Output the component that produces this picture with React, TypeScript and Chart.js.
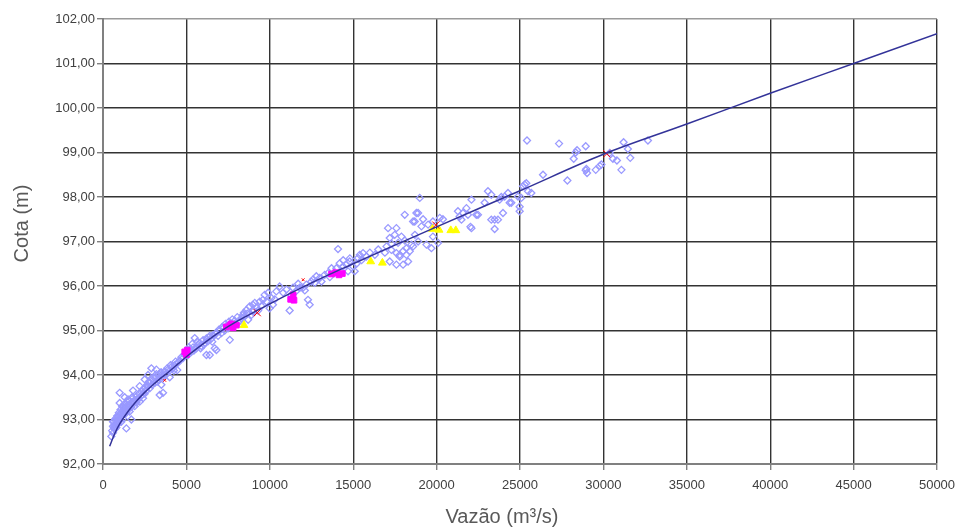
import React, { useEffect, useRef } from "react";
import { Chart, registerables } from "chart.js";

Chart.register(...registerables);

// ---------- data ----------
const X_TITLE = "Vazão (m³/s)";
const Y_TITLE = "Cota (m)";

const xMin = 0;
const xMax = 50000;
const xStep = 5000;
const yMin = 92;
const yMax = 102;
const yStep = 1;

// rating curve (discharge, stage)
const curveQ = [400, 700, 1000, 1500, 2000, 2500, 3000, 3500, 4000, 4500, 5000, 6000, 7000, 8000, 9000, 10000, 12500, 15000, 17500, 20000, 25000, 30000, 35000, 40000, 45000, 50000];
const curveH = [92.40, 92.68, 92.90, 93.18, 93.41, 93.61, 93.78, 93.94, 94.09, 94.25, 94.41, 94.70, 94.97, 95.20, 95.40, 95.60, 96.07, 96.50, 96.92, 97.33, 98.14, 98.96, 99.64, 100.33, 101.00, 101.67];

// measured points (discharge, stage)
const measuredLow: [number, number][] = [
  [500, 92.62], [550, 92.75], [600, 92.70], [600, 92.85], [600, 92.95], [650, 92.95], [650, 92.82], [700, 92.78],
  [700, 92.88], [750, 93.02], [750, 92.85], [800, 92.82], [800, 92.96], [850, 93.08], [850, 92.92], [900, 92.90],
  [900, 93.05], [950, 93.15], [950, 93.00], [1000, 92.98], [1000, 93.10], [1000, 93.60], [1000, 93.37], [1050, 93.22],
  [1050, 93.05], [1100, 92.95], [1100, 93.08], [1150, 93.18], [1150, 93.30], [1200, 93.02], [1200, 93.28], [1200, 93.15],
  [1250, 93.12], [1250, 93.25], [1300, 93.20], [1300, 93.35], [1300, 93.50], [1350, 93.28], [1400, 92.80], [1400, 93.15],
  [1400, 93.30], [1450, 93.40], [1500, 93.22], [1500, 93.45], [1550, 93.32], [1600, 93.18], [1600, 93.42], [1650, 93.30],
  [1700, 93.00], [1700, 93.28], [1700, 93.38], [1750, 93.50], [1800, 93.35], [1800, 93.48], [1800, 93.65], [1850, 93.40],
  [1900, 93.30], [1900, 93.44], [2000, 93.38], [2000, 93.52], [2050, 93.45], [2100, 93.45], [2150, 93.58], [2200, 93.40],
  [2200, 93.75], [2250, 93.52], [2300, 93.62], [2350, 93.55], [2400, 93.48], [2400, 93.68], [2450, 93.60], [2500, 93.58],
  [2500, 93.90], [2550, 93.72], [2600, 93.65], [2650, 93.78], [2700, 93.75], [2700, 94.00], [2750, 93.85], [2800, 93.70],
  [2800, 93.82], [2900, 94.15], [2950, 93.78], [3000, 93.88], [3050, 93.95], [3100, 93.82], [3150, 93.95], [3200, 94.02],
  [3200, 94.12], [3250, 93.85], [3300, 93.90], [3400, 93.55], [3400, 94.00], [3450, 94.05], [3500, 94.06], [3500, 93.78],
  [3550, 93.98], [3600, 93.60], [3600, 93.95], [3700, 94.08], [3750, 94.00], [3800, 94.02], [3850, 94.15], [3900, 94.12],
  [4000, 94.10], [4000, 93.95], [4050, 94.22], [4100, 94.18], [4200, 94.15], [4250, 94.10], [4300, 94.22], [4350, 94.30],
  [4450, 94.11], [4500, 94.28], [4600, 94.32], [4700, 94.40], [4800, 94.38], [4900, 94.45],
];

const measuredMid: [number, number][] = [
  [5000, 94.50], [5100, 94.45], [5150, 94.62], [5200, 94.58], [5300, 94.52], [5350, 94.70], [5400, 94.62], [5450, 94.55],
  [5500, 94.83], [5600, 94.60], [5650, 94.75], [5700, 94.68], [5800, 94.72], [5850, 94.60], [5900, 94.65], [6000, 94.78],
  [6050, 94.68], [6100, 94.72], [6200, 94.45], [6200, 94.82], [6300, 94.76], [6350, 94.85], [6400, 94.45], [6400, 94.88],
  [6500, 94.82], [6550, 94.75], [6600, 94.90], [6700, 94.60], [6750, 94.92], [6800, 94.56], [6800, 94.95], [6900, 94.88],
  [6950, 95.02], [7000, 95.00], [7100, 94.94], [7150, 95.08], [7200, 95.05], [7300, 95.00], [7350, 95.15], [7400, 95.10],
  [7500, 95.05], [7550, 95.20], [7600, 94.79], [7700, 95.15], [7750, 95.25], [7800, 95.12], [7900, 95.22], [8050, 95.30],
  [8100, 95.18], [8200, 95.22], [8300, 95.28], [8390, 95.35], [8450, 95.40], [8500, 95.32], [8600, 95.46], [8650, 95.38],
  [8700, 95.24], [8790, 95.54], [8900, 95.35], [8990, 95.58], [8990, 95.46], [9000, 95.42], [9100, 95.62], [9200, 95.52],
  [9300, 95.45], [9400, 95.65], [9500, 95.55], [9590, 95.69], [9690, 95.80], [9800, 95.65], [9900, 95.85], [9990, 95.50],
  [10090, 95.73], [10190, 95.58], [10300, 95.70], [10390, 95.88], [10590, 95.99], [10800, 95.85], [11000, 95.92], [11190, 95.45],
  [11290, 95.80], [11390, 95.96], [11590, 95.89], [11700, 96.05], [11790, 95.96], [11990, 95.96], [12100, 95.90], [12190, 96.03],
  [12290, 95.69], [12390, 95.58], [12490, 96.10], [12600, 96.15], [12690, 96.07], [12790, 96.22], [12990, 96.18], [13100, 96.10],
  [13290, 96.25], [13490, 96.29], [13600, 96.20], [13700, 96.40], [13890, 96.29], [13990, 96.40], [14090, 96.83], [14190, 96.51],
  [14290, 96.33], [14390, 96.44], [14400, 96.58], [14590, 96.48], [14690, 96.33], [14790, 96.55], [14800, 96.62], [14990, 96.44],
  [15090, 96.33], [15200, 96.50], [15290, 96.63], [15390, 96.70], [15500, 96.58], [15590, 96.74], [15790, 96.66], [16000, 96.75],
  [16300, 96.70], [16500, 96.82], [16900, 96.75], [17000, 96.89], [17090, 97.30], [17190, 96.55], [17190, 97.08], [17290, 96.81],
  [17300, 96.95], [17490, 97.15], [17590, 96.48], [17590, 96.74], [17590, 97.30], [17690, 96.97], [17790, 96.66], [17990, 96.48],
  [18100, 97.02], [18190, 96.70], [18290, 96.55], [18390, 96.78], [18590, 96.89], [18700, 97.15],
];

const measuredHigh: [number, number][] = [
  [17790, 96.70], [17890, 97.11], [17990, 96.78], [18090, 97.60], [18190, 96.85], [18490, 96.93], [18590, 97.45], [18690, 97.45],
  [18790, 97.64], [18890, 97.00], [18890, 97.64], [18990, 97.98], [19090, 97.34], [19190, 97.50], [19390, 96.93], [19490, 97.38],
  [19690, 96.85], [19780, 97.11], [19780, 97.45], [20090, 96.97], [20190, 97.53], [20380, 97.50], [21280, 97.68], [21380, 97.56],
  [21490, 97.49], [21580, 97.64], [21790, 97.75], [21880, 97.60], [22030, 97.33], [22090, 97.94], [22090, 97.30], [22380, 97.60],
  [22480, 97.60], [22880, 97.87], [23080, 98.13], [23280, 98.05], [23280, 97.49], [23480, 97.49], [23480, 97.28], [23680, 97.49],
  [23780, 97.94], [23880, 98.00], [23980, 97.64], [24080, 98.01], [24280, 98.09], [24380, 97.87], [24480, 97.87], [24880, 98.01],
  [24980, 97.68], [24980, 97.78], [25080, 97.98], [25180, 98.24], [25280, 98.28], [25380, 98.31], [25420, 99.27], [25480, 98.13],
  [25680, 98.09], [26380, 98.50], [27340, 99.20], [27840, 98.37], [28220, 98.86], [28340, 99.00], [28420, 99.05], [28940, 99.14],
  [28940, 98.60], [28980, 98.63], [29020, 98.54], [29540, 98.61], [29780, 98.70], [29880, 98.73], [30380, 98.99], [30570, 98.86],
  [30810, 98.82], [31080, 98.61], [31210, 99.23], [31470, 99.08], [31610, 98.88], [32670, 99.27],
];

const magentaPoints: [number, number][] = [
  [4900, 94.52], [5000, 94.46], [5050, 94.56], [7400, 95.08], [7600, 95.11], [7800, 95.06], [8000, 95.12], [7700, 95.15],
  [11250, 95.70], [11400, 95.80], [11450, 95.68], [13700, 96.27], [13950, 96.30], [14150, 96.25], [14350, 96.28],
];

const yellowPoints: [number, number][] = [
  [8450, 95.12], [16050, 96.55], [16750, 96.52], [19750, 97.28], [20150, 97.26], [20850, 97.25], [21150, 97.25],
];

const redPoints: [number, number][] = [
  [9250, 95.40], [19950, 97.37], [30200, 98.97], [3700, 93.88], [12000, 96.14],
];
const redSizes = [5, 5, 5, 2, 2];

// ---------- helpers ----------
const toXY = (arr: [number, number][]) => arr.map(([x, y]) => ({ x, y }));
const FONT_FAMILY = '"Liberation Sans", Arial, sans-serif';

const titlesPlugin = {
  id: "axisTitles",
  afterDraw(chart: any) {
    const { ctx, chartArea } = chart;
    ctx.save();
    ctx.fillStyle = "#595959";
    ctx.font = `20px ${FONT_FAMILY}`;
    ctx.textAlign = "center";
    ctx.textBaseline = "middle";
    const xc = (chartArea.left + chartArea.right) / 2 - 18;
    ctx.fillText(X_TITLE, xc, chart.height - 14);
    ctx.translate(22, (chartArea.top + chartArea.bottom) / 2 - 18);
    ctx.rotate(-Math.PI / 2);
    ctx.fillText(Y_TITLE, 0, 0);
    ctx.restore();
  },
};

export default function App() {
  const canvasRef = useRef<HTMLCanvasElement | null>(null);

  useEffect(() => {
    if (!canvasRef.current) return;
    const curve = curveQ.map((q, i) => ({ x: q, y: curveH[i] }));
    const measured = [...toXY(measuredLow), ...toXY(measuredMid), ...toXY(measuredHigh)];

    const chart = new Chart(canvasRef.current, {
      type: "scatter",
      data: {
        datasets: [
          {
            label: "Curva",
            data: curve,
            showLine: true,
            borderColor: "#333399",
            borderWidth: 1.5,
            pointRadius: 0,
            cubicInterpolationMode: "monotone",
            order: 0,
          },
          {
            label: "X",
            data: toXY(redPoints),
            pointStyle: "crossRot",
            pointRadius: redSizes,
            borderColor: "#FF0000",
            borderWidth: 1,
            order: 1,
          },
          {
            label: "Triângulos",
            data: toXY(yellowPoints),
            pointStyle: "triangle",
            pointRadius: 4.5,
            backgroundColor: "#FFFF00",
            borderColor: "#FFFF00",
            borderWidth: 1,
            order: 2,
          },
          {
            label: "Quadrados",
            data: toXY(magentaPoints),
            pointStyle: "rect",
            pointRadius: 4,
            backgroundColor: "#FF00FF",
            borderColor: "#FF00FF",
            borderWidth: 1,
            order: 3,
          },
          {
            label: "Medições",
            data: measured,
            pointStyle: "rectRot",
            pointRadius: 3.5,
            backgroundColor: "rgba(255,255,255,0)",
            borderColor: "#9999FF",
            borderWidth: 1.3,
            order: 4,
          },
        ],
      },
      options: {
        animation: false,
        responsive: false,
        devicePixelRatio: 1,
        layout: { padding: { left: 0, right: 18, top: 19, bottom: 0 } },
        plugins: {
          legend: { display: false },
          tooltip: { enabled: false },
          title: { display: false },
        },
        scales: {
          x: {
            type: "linear",
            min: xMin,
            max: xMax,
            afterFit: (s: any) => {
              s.height = 67;
              s.paddingLeft = 0;
              s.paddingRight = 0;
            },
            ticks: {
              stepSize: xStep,
              autoSkip: false,
              maxRotation: 0,
              padding: 8,
              color: "#404040",
              font: { family: FONT_FAMILY, size: 13 },
              callback: (v: any) => String(v),
            },
            grid: {
              color: "#333333",
              lineWidth: 1.4,
              tickLength: 6,
              tickColor: "#808080",
              drawTicks: true,
            },
            border: { display: true, color: "#808080", width: 2 },
          },
          y: {
            type: "linear",
            min: yMin,
            max: yMax,
            afterFit: (s: any) => {
              s.width = 103;
              s.paddingTop = 0;
              s.paddingBottom = 0;
            },
            ticks: {
              stepSize: yStep,
              autoSkip: false,
              padding: 2,
              color: "#404040",
              font: { family: FONT_FAMILY, size: 13 },
              callback: (v: any) => Number(v).toFixed(2).replace(".", ","),
            },
            grid: {
              color: (c: any) => (c.tick && c.tick.value === yMax ? "#9a9a9a" : "#333333"),
              lineWidth: 1.4,
              tickLength: 6,
              tickColor: "#808080",
              drawTicks: true,
            },
            border: { display: true, color: "#808080", width: 2 },
          },
        },
      },
      plugins: [titlesPlugin],
    });

    return () => chart.destroy();
  }, []);

  return (
    <div style={{ position: "fixed", left: 0, top: 0, width: 955, height: 531, background: "#fff" }}>
      <canvas ref={canvasRef} width={955} height={531} style={{ width: 955, height: 531, display: "block" }} />
    </div>
  );
}
